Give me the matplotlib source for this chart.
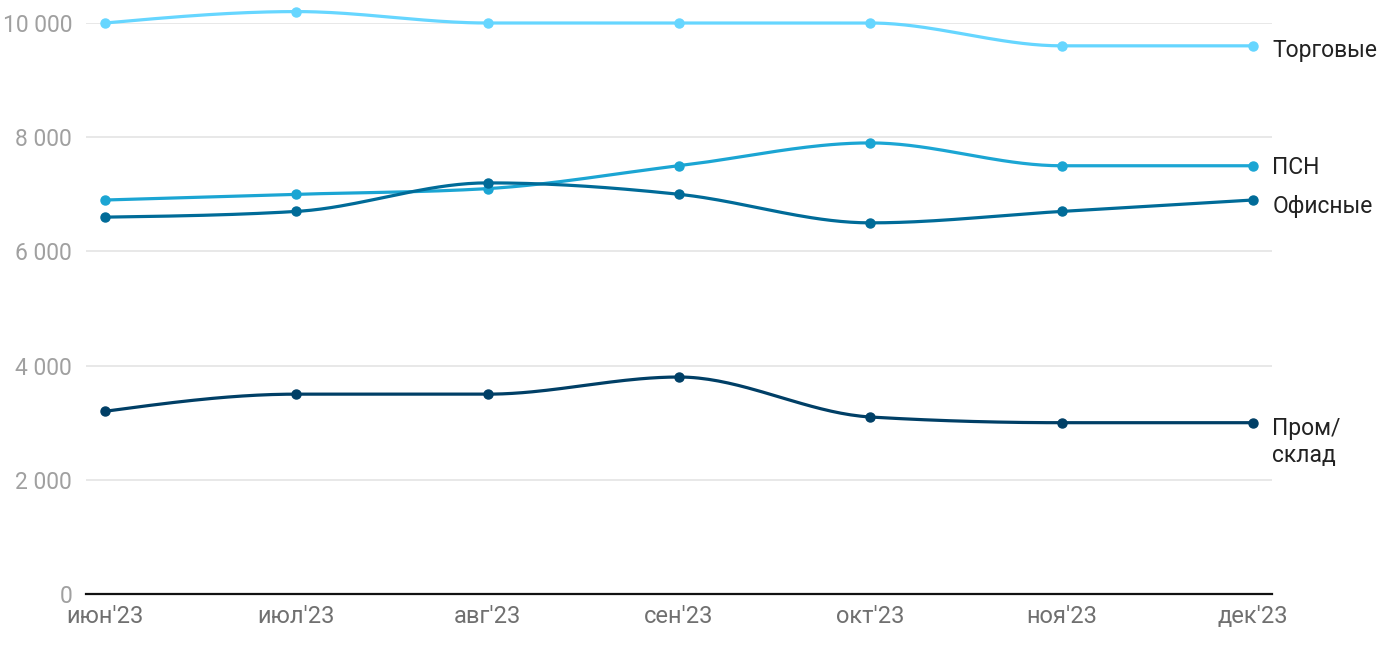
import numpy as np
import matplotlib
matplotlib.use('Agg')
import matplotlib.pyplot as plt

plt.rcParams['font.family'] = ['Roboto', 'DejaVu Sans']

months = ["июн'23", "июл'23", "авг'23", "сен'23", "окт'23", "ноя'23", "дек'23"]
trade = [10000, 10200, 10000, 10000, 10000, 9600, 9600]
psn = [6900, 7000, 7100, 7500, 7900, 7500, 7500]
office = [6600, 6700, 7200, 7000, 6500, 6700, 6900]
industrial = [3200, 3500, 3500, 3800, 3100, 3000, 3000]

series = [
    ('Торговые', trade, '#66d6ff', (0, -3)),
    ('ПСН', psn, '#1ba5d3', (0, -1)),
    ('Офисные', office, '#006b98', (0, -5)),
    ('Пром/\nсклад', industrial, '#003f66', (0, -14)),
]


def monotone_curve(x, y, n=40):
    # d3 curveMonotoneX style hermite curve through the points
    x = np.asarray(x, float)
    y = np.asarray(y, float)
    h = np.diff(x)
    s = np.diff(y) / h
    t = np.zeros(len(x))
    for i in range(1, len(x) - 1):
        h0, h1 = h[i - 1], h[i]
        s0, s1 = s[i - 1], s[i]
        p = (s0 * h1 + s1 * h0) / (h0 + h1)
        t[i] = (np.sign(s0) + np.sign(s1)) * min(abs(s0), abs(s1), 0.5 * abs(p))
    t[0] = (3 * s[0] - t[1]) / 2
    t[-1] = (3 * s[-1] - t[-2]) / 2
    xs, ys = [], []
    for i in range(len(x) - 1):
        u = np.linspace(0, 1, n)
        h00 = 2 * u**3 - 3 * u**2 + 1
        h10 = u**3 - 2 * u**2 + u
        h01 = -2 * u**3 + 3 * u**2
        h11 = u**3 - u**2
        xs.append(x[i] + u * h[i])
        ys.append(h00 * y[i] + h10 * h[i] * t[i] + h01 * y[i + 1] + h11 * h[i] * t[i + 1])
    return np.concatenate(xs), np.concatenate(ys)


fig = plt.figure(figsize=(14, 6.5), dpi=100)
ax = fig.add_axes([86 / 1400, 1 - 594 / 650, (1272 - 86) / 1400, (594 - 23) / 650])

xpos = np.arange(len(months))
for name, vals, color, off in series:
    cx, cy = monotone_curve(xpos, vals)
    ax.plot(cx, cy, color=color, linewidth=2.3, clip_on=False, zorder=3)
    ax.plot(xpos, vals, 'o', color=color, markersize=6.5, clip_on=False, zorder=4)
    ax.annotate(name, xy=(xpos[-1], vals[-1]), xytext=(14 + off[0], off[1]),
                textcoords='offset points', ha='left', va='center',
                fontsize=16.5, color='#222222', linespacing=1.25,
                annotation_clip=False)

ax.set_xlim(-0.1, 6.1)
ax.set_ylim(0, 10000)
ax.set_yticks([0, 2000, 4000, 6000, 8000, 10000])
ax.set_yticklabels(['0', '2 000', '4 000', '6 000', '8 000', '10 000'])
ax.set_xticks(xpos)
ax.set_xticklabels(months)
ax.tick_params(axis='y', length=0, pad=10, labelsize=16.5, labelcolor='#a0a0a0')
ax.tick_params(axis='x', length=0, pad=8, labelsize=17, labelcolor='#707070')
ax.grid(axis='y', color='#e6e6e6', linewidth=1.3)
ax.set_axisbelow(True)
for sp in ['top', 'right', 'left']:
    ax.spines[sp].set_visible(False)
ax.spines['bottom'].set_color('#111111')
ax.spines['bottom'].set_linewidth(1.6)

fig.savefig('out.png', dpi=100)
